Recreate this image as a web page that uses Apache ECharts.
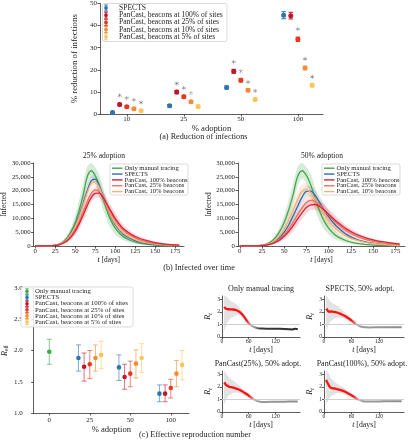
<!DOCTYPE html>
<html><head><meta charset="utf-8">
<script src="https://cdn.jsdelivr.net/npm/echarts@6/dist/echarts.min.js"></script>
<style>html,body{margin:0;padding:0;background:#fff}#c{width:411px;height:440px}</style>
</head><body><div id="c"></div>
<script>
// ================= DATA =================
// (a) Reduction of infections
const ADOPTION_A = ['10', '25', '50', '100'];
const SPECTS_A = [0.7, 3.7, 12.0, 44.7];
const SPECTS_A_ERR = [0.5, 0.6, 0.7, 1.6];
const PC100_A = [4.3, 9.9, 19.3, 44.5];
const PC100_A_ERR = [0.6, 0.8, 0.9, 1.5];
const PC25_A = [3.3, 7.8, 15.3, 33.8];
const PC25_A_ERR = [0.5, 0.7, 0.8, 1.0];
const PC10_A = [2.4, 5.5, 10.8, 20.8];
const PC10_A_ERR = [0.5, 0.6, 0.7, 0.8];
const PC5_A = [1.5, 3.4, 6.6, 13.0];
const PC5_A_ERR = [0.5, 0.6, 0.6, 0.7];
const STAR100_A = [8.4, 13.8, 23.5, null];
const STAR25_A = [7.2, 11.8, 19.3, 38.5];
const STAR10_A = [6.4, 9.4, 14.5, 25.0];
const STAR5_A = [5.2, null, 10.5, 16.9];

// (b) Infected over time
const T_DAYS = [0, 10, 20, 25, 30, 35, 40, 45, 50, 55, 60, 65, 70, 75, 80, 85, 90, 95, 100, 105, 110, 120, 130, 140, 150, 160, 170, 180];
const T_TICKS = [0, 25, 50, 75, 100, 125, 150, 175];
const MANUAL_B = [0, 20, 100, 300, 700, 1500, 3000, 5300, 8500, 13000, 18500, 25000, 27200, 25500, 22000, 17000, 12500, 9000, 6500, 4700, 3400, 1900, 1000, 550, 300, 160, 90, 50];
const MANUAL_B_SPREAD = [0, 0, 30, 100, 250, 550, 1000, 1700, 2600, 3500, 4000, 3600, 2800, 3000, 3800, 4000, 3600, 2900, 2300, 1800, 1300, 800, 450, 250, 130, 70, 40, 20];
const SPECTS_B25 = [0, 15, 80, 250, 600, 1300, 2600, 4600, 7300, 11000, 15500, 20000, 23500, 24200, 21800, 17800, 13800, 10400, 7800, 5800, 4300, 2600, 1500, 900, 550, 330, 200, 120];
const SPECTS_B25_SPREAD = [0, 0, 20, 80, 200, 450, 850, 1350, 1850, 2200, 2300, 1900, 1400, 1500, 2000, 2200, 2000, 1600, 1300, 1000, 750, 450, 260, 150, 80, 45, 25, 12];
const PC10_B25 = [0, 15, 80, 250, 600, 1300, 2500, 4400, 7000, 10500, 14800, 19200, 22600, 23200, 21200, 17600, 13900, 10700, 8200, 6200, 4700, 2900, 1800, 1100, 700, 430, 270, 170];
const PC10_B25_SPREAD = [0, 0, 20, 80, 200, 400, 800, 1250, 1700, 2000, 2100, 1800, 1300, 1300, 1700, 1900, 1800, 1500, 1200, 950, 700, 450, 280, 170, 100, 60, 35, 20];
const PC25_B25 = [0, 12, 70, 200, 500, 1100, 2100, 3700, 5900, 8800, 12300, 16000, 19000, 20300, 19600, 17300, 14500, 11800, 9400, 7400, 5800, 3600, 2300, 1500, 950, 600, 380, 250];
const PC25_B25_SPREAD = [0, 0, 20, 70, 180, 380, 700, 1100, 1500, 1800, 2000, 1900, 1500, 1300, 1500, 1700, 1800, 1700, 1500, 1250, 1000, 700, 480, 320, 210, 140, 90, 60];
const PC100_B25 = [0, 12, 60, 200, 450, 1000, 1900, 3300, 5300, 8000, 11200, 14600, 17500, 19000, 19100, 17500, 15000, 12400, 10000, 8000, 6300, 4200, 2800, 1900, 1200, 800, 500, 350];
const PC100_B25_SPREAD = [0, 0, 20, 70, 180, 380, 700, 1100, 1500, 1900, 2200, 2200, 1900, 1600, 1700, 2000, 2200, 2200, 2000, 1700, 1450, 1050, 750, 520, 360, 250, 170, 120];
const SPECTS_B50 = [0, 12, 60, 180, 420, 900, 1800, 3100, 5000, 7600, 10800, 14300, 17600, 19700, 19800, 18200, 15700, 13000, 10600, 8500, 6800, 4200, 2600, 1600, 1000, 620, 380, 240];
const SPECTS_B50_SPREAD = [0, 0, 20, 60, 150, 350, 700, 1150, 1700, 2200, 2600, 2700, 2400, 2000, 1900, 2100, 2300, 2200, 2000, 1700, 1400, 950, 650, 430, 280, 180, 120, 80];
const PC10_B50 = [0, 15, 75, 220, 500, 1100, 2200, 3800, 6100, 9200, 12900, 16800, 19800, 20400, 19200, 16800, 14000, 11400, 9100, 7200, 5700, 3500, 2200, 1400, 900, 560, 350, 220];
const PC10_B50_SPREAD = [0, 0, 20, 70, 180, 400, 800, 1300, 1900, 2500, 2900, 3000, 2600, 2200, 2300, 2500, 2500, 2200, 1900, 1600, 1300, 850, 560, 370, 240, 160, 100, 70];
const PC25_B50 = [0, 10, 50, 160, 360, 750, 1450, 2500, 4000, 6000, 8500, 11200, 13800, 15700, 16500, 16100, 14800, 13000, 11200, 9500, 8000, 5500, 3700, 2500, 1700, 1150, 780, 530];
const PC25_B50_SPREAD = [0, 0, 15, 50, 120, 280, 550, 900, 1300, 1700, 2000, 2200, 2200, 2000, 1800, 1800, 1900, 1900, 1800, 1600, 1400, 1050, 750, 530, 380, 270, 190, 130];
const PC100_B50 = [0, 10, 45, 150, 330, 680, 1300, 2200, 3500, 5200, 7300, 9700, 12000, 13900, 14900, 15000, 14300, 13000, 11500, 10000, 8600, 6200, 4400, 3100, 2200, 1550, 1100, 750];
const PC100_B50_SPREAD = [0, 0, 15, 50, 120, 260, 500, 850, 1250, 1650, 2000, 2200, 2300, 2200, 2000, 1900, 2000, 2100, 2000, 1800, 1600, 1250, 950, 700, 500, 360, 260, 190];

// (c) Effective reproduction number
const ADOPTION_C = ['0', '25', '50', '100'];
const MANUAL_C = [1.98]; const MANUAL_C_LO = [1.78]; const MANUAL_C_HI = [2.18];
const SPECTS_C = [1.88, 1.73, 1.31]; const SPECTS_C_LO = [1.67, 1.52, 1.18]; const SPECTS_C_HI = [2.09, 1.93, 1.45];
const PC100_C = [1.74, 1.575, 1.31]; const PC100_C_LO = [1.51, 1.38, 1.18]; const PC100_C_HI = [1.96, 1.78, 1.45];
const PC25_C = [1.78, 1.63, 1.40]; const PC25_C_LO = [1.55, 1.42, 1.24]; const PC25_C_HI = [2.0, 1.83, 1.54];
const PC10_C = [1.88, 1.79, 1.63]; const PC10_C_LO = [1.67, 1.56, 1.42]; const PC10_C_HI = [2.09, 2.01, 1.84];
const PC5_C = [1.93, 1.88, 1.77]; const PC5_C_LO = [1.71, 1.65, 1.53]; const PC5_C_HI = [2.15, 2.11, 2.0];

// Rt small multiples: [t, Rt]
const RT_TICKS_X = [0, 60, 120];
const RT_TICKS_Y = [0, 1, 2, 3];
const BAND_T = [5, 10, 15, 20, 25, 30, 40, 50, 60, 70, 80, 100, 130, 170];
const MAN_RT_LO = [0.5, 1.0, 1.3, 1.5, 1.6, 1.7, 1.75, 1.45, 1.0, 0.76, 0.68, 0.64, 0.63, 0.58];
const MAN_RT_HI = [3.3, 3.2, 3.0, 2.85, 2.75, 2.65, 2.3, 1.8, 1.25, 0.9, 0.74, 0.69, 0.68, 0.68];
const MAN_RT_RED = [[5, 2.38], [7, 2.3], [10, 2.22], [13, 2.2], [16, 2.2], [20, 2.19], [25, 2.18], [30, 2.15], [35, 2.08], [40, 1.97], [45, 1.8], [50, 1.58], [55, 1.33], [60, 1.1], [63, 1.0]];
const MAN_RT_TAIL = [[63, 1.0], [66, 0.9], [70, 0.82], [75, 0.75], [80, 0.7], [90, 0.67], [100, 0.66], [110, 0.66], [120, 0.65], [130, 0.65], [140, 0.64], [150, 0.62], [155, 0.6], [160, 0.62], [165, 0.66], [170, 0.62]];
const SPE_RT_LO = [0.5, 1.0, 1.25, 1.4, 1.5, 1.55, 1.5, 1.35, 1.15, 0.92, 0.79, 0.74, 0.75, 0.76];
const SPE_RT_HI = [3.3, 3.0, 2.8, 2.65, 2.55, 2.45, 2.15, 1.8, 1.5, 1.14, 0.87, 0.79, 0.8, 0.8];
const SPE_RT_RED = [[5, 2.25], [7, 2.15], [9, 2.05], [12, 2.0], [16, 2.02], [20, 2.0], [25, 1.98], [30, 1.92], [35, 1.85], [40, 1.77], [45, 1.68], [50, 1.57], [55, 1.45], [60, 1.32], [65, 1.17], [70, 1.03]];
const SPE_RT_TAIL = [[70, 1.03], [75, 0.92], [80, 0.83], [85, 0.79], [90, 0.77], [100, 0.76], [120, 0.77], [140, 0.78], [160, 0.78], [170, 0.78]];
const P25_RT_LO = [0.6, 1.05, 1.3, 1.4, 1.5, 1.55, 1.5, 1.3, 1.1, 0.92, 0.82, 0.78, 0.8, 0.81];
const P25_RT_HI = [3.3, 3.0, 2.8, 2.6, 2.5, 2.35, 2.05, 1.75, 1.5, 1.16, 0.9, 0.82, 0.84, 0.85];
const P25_RT_RED = [[5, 2.35], [7, 2.25], [9, 2.15], [12, 2.08], [16, 2.0], [20, 1.97], [25, 1.93], [30, 1.88], [35, 1.82], [40, 1.74], [45, 1.64], [50, 1.53], [55, 1.42], [60, 1.3], [65, 1.17], [70, 1.04]];
const P25_RT_TAIL = [[70, 1.04], [75, 0.93], [80, 0.86], [85, 0.82], [90, 0.8], [100, 0.8], [120, 0.81], [140, 0.82], [160, 0.83], [170, 0.83]];
const P100_RT_LO = [0.6, 1.0, 1.25, 1.35, 1.45, 1.5, 1.45, 1.3, 1.15, 0.98, 0.86, 0.81, 0.82, 0.83];
const P100_RT_HI = [3.3, 3.1, 2.7, 2.5, 2.35, 2.2, 2.0, 1.75, 1.5, 1.22, 0.98, 0.85, 0.87, 0.87];
const P100_RT_RED = [[5, 2.55], [6, 2.4], [8, 2.3], [10, 2.15], [13, 1.98], [16, 1.9], [20, 1.87], [25, 1.85], [30, 1.8], [35, 1.75], [40, 1.7], [45, 1.62], [50, 1.53], [55, 1.43], [60, 1.33], [65, 1.22], [70, 1.1], [75, 1.0]];
const P100_RT_TAIL = [[75, 1.0], [80, 0.92], [85, 0.86], [90, 0.84], [100, 0.83], [120, 0.84], [140, 0.85], [160, 0.85], [170, 0.85]];

// ================= STYLE =================
const FONT = 'Liberation Serif';
const TXT_COLOR = '#222';
const COL = {
  spectsA: '#2c74b5', pc100A: '#c1152d', pc25A: '#e8361f', pc10A: '#f58b32', pc5A: '#fcc45a', manC: '#39a845',
  manB: '#43a44e', spectsB: '#2f6cb0', pc100B: '#d8213b', pc25B: '#f2705c', pc10B: '#fdb06e'
};
const BAND = {
  manB: 'rgba(67,164,78,0.22)', spectsB: 'rgba(47,108,176,0.15)', pc100B: 'rgba(216,33,59,0.17)',
  pc25B: 'rgba(242,112,92,0.15)', pc10B: 'rgba(253,176,110,0.2)'
};
const ASTERISK = 'path://M4.5,0H5.5V10H4.5Z M0.42,2.93L0.92,2.07L9.58,7.07L9.08,7.93Z M0.42,7.07L9.08,2.07L9.58,2.93L0.92,7.93Z';

function merge(a, b) {
  const out = Object.assign({}, a);
  for (const k in b) {
    if (b[k] && typeof b[k] === 'object' && !Array.isArray(b[k]) && a[k] && typeof a[k] === 'object' && !Array.isArray(a[k])) out[k] = merge(a[k], b[k]);
    else out[k] = b[k];
  }
  return out;
}
const RICH = {
  i: { fontFamily: FONT, fontStyle: 'italic', fontSize: 8, color: TXT_COLOR, lineHeight: 9, verticalAlign: 'top' },
  s: { fontFamily: FONT, fontSize: 5.5, color: TXT_COLOR, lineHeight: 5, verticalAlign: 'bottom' },
  si: { fontFamily: FONT, fontStyle: 'italic', fontSize: 5.5, color: TXT_COLOR, lineHeight: 5, verticalAlign: 'bottom' }
};
function mkAxis(gi, o) {
  const base = {
    gridIndex: gi, type: 'value',
    axisLine: { show: true, onZero: false, lineStyle: { color: '#333', width: 0.8 } },
    axisTick: { show: true, length: 2.5, lineStyle: { color: '#333', width: 0.8 } },
    axisLabel: { fontFamily: FONT, fontSize: 7, color: TXT_COLOR, margin: 3 },
    splitLine: { show: false },
    nameLocation: 'middle',
    nameTextStyle: { fontFamily: FONT, fontSize: 8.6, color: TXT_COLOR, rich: RICH }
  };
  return merge(base, o);
}

function errRender(color, capW, r, barOp) {
  return function (params, api) {
    const x = api.value(0);
    const c = api.coord([x, api.value(1)]);
    const lo = api.coord([x, api.value(2)]);
    const hi = api.coord([x, api.value(3)]);
    const ls = { stroke: color, lineWidth: 1, opacity: barOp };
    return {
      type: 'group', children: [
        { type: 'line', shape: { x1: c[0], y1: lo[1], x2: c[0], y2: hi[1] }, style: ls },
        { type: 'line', shape: { x1: c[0] - capW / 2, y1: lo[1], x2: c[0] + capW / 2, y2: lo[1] }, style: ls },
        { type: 'line', shape: { x1: c[0] - capW / 2, y1: hi[1], x2: c[0] + capW / 2, y2: hi[1] }, style: ls },
        { type: 'circle', shape: { cx: c[0], cy: c[1], r: r }, style: { fill: color } }
      ]
    };
  };
}
// band polygon: data items are [t, lo, hi]; drawn once as a whole
function bandRender(fill, smooth) {
  return function (params, api) {
    if (params.dataIndexInside !== 0) return null;
    const n = params.dataInsideLength;
    const up = [], dn = [];
    for (let i = 0; i < n; i++) {
      const x = api.value(0, i);
      up.push(api.coord([x, api.value(2, i)]));
      dn.push(api.coord([x, api.value(1, i)]));
    }
    return { type: 'polygon', shape: { points: up.concat(dn.reverse()), smooth: smooth }, style: { fill: fill } };
  };
}

// ================= BUILD =================
const series = [];
const NAMES_A = ['SPECTS', 'PanCast, beacons at 100% of sites', 'PanCast, beacons at 25% of sites', 'PanCast, beacons at 10% of sites', 'PanCast, beacons at 5% of sites'];
const A_VALS = [SPECTS_A, PC100_A, PC25_A, PC10_A, PC5_A];
const A_ERRS = [SPECTS_A_ERR, PC100_A_ERR, PC25_A_ERR, PC10_A_ERR, PC5_A_ERR];
const A_COLS = [COL.spectsA, COL.pc100A, COL.pc25A, COL.pc10A, COL.pc5A];
const A_STARS = [null, STAR100_A, STAR25_A, STAR10_A, STAR5_A];
const OFF_A = 0.125;
const starData = [];
A_VALS.forEach((vals, k) => {
  const off = (k - 2) * OFF_A;
  series.push({
    type: 'custom', name: NAMES_A[k], xAxisIndex: 0, yAxisIndex: 0,
    itemStyle: { color: A_COLS[k] },
    data: vals.map((v, g) => [g + off, v, v - A_ERRS[k][g], v + A_ERRS[k][g]]),
    renderItem: errRender(A_COLS[k], 4.5, 2.5, 1), z: 3
  });
  if (A_STARS[k]) A_STARS[k].forEach((s, g) => { if (s != null) starData.push([g + off, s]); });
});
series.push({
  type: 'scatter', name: 'significance', xAxisIndex: 0, yAxisIndex: 0, data: starData,
  symbol: ASTERISK, symbolSize: 4.2, itemStyle: { color: '#555' }, silent: true
});

// (b)
const B_PANELS = [
  { gi: 1, curves: [[MANUAL_B, MANUAL_B_SPREAD, 'manB'], [SPECTS_B25, SPECTS_B25_SPREAD, 'spectsB'], [PC10_B25, PC10_B25_SPREAD, 'pc10B'], [PC25_B25, PC25_B25_SPREAD, 'pc25B'], [PC100_B25, PC100_B25_SPREAD, 'pc100B']] },
  { gi: 2, curves: [[MANUAL_B, MANUAL_B_SPREAD, 'manB'], [SPECTS_B50, SPECTS_B50_SPREAD, 'spectsB'], [PC10_B50, PC10_B50_SPREAD, 'pc10B'], [PC25_B50, PC25_B50_SPREAD, 'pc25B'], [PC100_B50, PC100_B50_SPREAD, 'pc100B']] }
];
const B_KEYS = ['manB', 'spectsB', 'pc100B', 'pc25B', 'pc10B'];
const B_NAMES = { manB: 'Only manual tracing', spectsB: 'SPECTS', pc100B: 'PanCast, 100% beacons', pc25B: 'PanCast, 25% beacons', pc10B: 'PanCast, 10% beacons' };
B_PANELS.forEach(p => {
  p.curves.forEach(([mean, spr, key]) => {
    series.push({
      type: 'custom', name: 'band', xAxisIndex: p.gi, yAxisIndex: p.gi, silent: true, clip: true,
      data: T_DAYS.map((t, i) => [t, Math.max(0, mean[i] - spr[i]), mean[i] + spr[i]]),
      renderItem: bandRender(BAND[key], 0.25), z: 1
    });
  });
  p.curves.forEach(([mean, spr, key]) => {
    series.push({
      type: 'line', name: B_NAMES[key], xAxisIndex: p.gi, yAxisIndex: p.gi,
      data: T_DAYS.map((t, i) => [t, mean[i]]), symbol: 'none', smooth: 0.3,
      lineStyle: { color: COL[key], width: 1.3 }, itemStyle: { color: COL[key] }, z: 3
    });
  });
});

// (c) left
const C_GROUPS = [
  { name: 'Only manual tracing', vals: MANUAL_C, lo: MANUAL_C_LO, hi: MANUAL_C_HI, col: COL.manC, g0: 0, k: 2 },
  { name: NAMES_A[0], vals: SPECTS_C, lo: SPECTS_C_LO, hi: SPECTS_C_HI, col: COL.spectsA, g0: 1, k: 0 },
  { name: NAMES_A[1], vals: PC100_C, lo: PC100_C_LO, hi: PC100_C_HI, col: COL.pc100A, g0: 1, k: 1 },
  { name: NAMES_A[2], vals: PC25_C, lo: PC25_C_LO, hi: PC25_C_HI, col: COL.pc25A, g0: 1, k: 2 },
  { name: NAMES_A[3], vals: PC10_C, lo: PC10_C_LO, hi: PC10_C_HI, col: COL.pc10A, g0: 1, k: 3 },
  { name: NAMES_A[4], vals: PC5_C, lo: PC5_C_LO, hi: PC5_C_HI, col: COL.pc5A, g0: 1, k: 4 }
];
const OFF_C = 0.14;
C_GROUPS.forEach(s => {
  series.push({
    type: 'custom', name: s.name, xAxisIndex: 3, yAxisIndex: 3, itemStyle: { color: s.col },
    data: s.vals.map((v, i) => [s.g0 + i + (s.k - 2) * OFF_C, v, s.lo[i], s.hi[i]]),
    renderItem: errRender(s.col, 5, 2.3, 0.6), z: 3
  });
});

// Rt small multiples
const RT_PLOTS = [
  { gi: 4, lo: MAN_RT_LO, hi: MAN_RT_HI, red: MAN_RT_RED, tail: MAN_RT_TAIL, dark: true },
  { gi: 5, lo: SPE_RT_LO, hi: SPE_RT_HI, red: SPE_RT_RED, tail: SPE_RT_TAIL, dark: false },
  { gi: 6, lo: P25_RT_LO, hi: P25_RT_HI, red: P25_RT_RED, tail: P25_RT_TAIL, dark: false },
  { gi: 7, lo: P100_RT_LO, hi: P100_RT_HI, red: P100_RT_RED, tail: P100_RT_TAIL, dark: false }
];
RT_PLOTS.forEach(p => {
  series.push({
    type: 'custom', name: 'rtband', xAxisIndex: p.gi, yAxisIndex: p.gi, silent: true, clip: true,
    data: BAND_T.map((t, i) => [t, p.lo[i], p.hi[i]]),
    renderItem: bandRender('rgba(160,160,160,0.3)', 0.2), z: 1
  });
  series.push({
    type: 'line', name: 'rtred', xAxisIndex: p.gi, yAxisIndex: p.gi, silent: true,
    data: p.red, symbol: 'none', smooth: 0.2, z: 3,
    lineStyle: {
      width: 2.3, color: new echarts.graphic.LinearGradient(0, 0, 1, 0, [
        { offset: 0, color: '#ff1111' }, { offset: 0.8, color: '#ff1111' }, { offset: 1, color: 'rgba(255,140,140,0.45)' }])
    },
    markLine: {
      silent: true, symbol: 'none', label: { show: false }, z: 2,
      lineStyle: { color: '#cfcfcf', width: 1, type: 'solid' }, data: [{ yAxis: 1 }]
    }
  });
  series.push({
    type: 'line', name: 'rttail', xAxisIndex: p.gi, yAxisIndex: p.gi, silent: true,
    data: p.tail, symbol: 'none', smooth: 0.2, z: 3,
    lineStyle: {
      width: 2, color: new echarts.graphic.LinearGradient(0, 0, 1, 0, p.dark ? [
        { offset: 0, color: 'rgba(190,190,190,0.6)' }, { offset: 0.12, color: '#999' }, { offset: 0.25, color: '#3a3a3a' }, { offset: 1, color: '#2a2a2a' }] : [
        { offset: 0, color: 'rgba(200,200,200,0.6)' }, { offset: 0.15, color: '#9a9a9a' }, { offset: 1, color: '#8c8c8c' }])
    }
  });
});

// axes
const grids = [
  { left: 100, top: 3, width: 223, height: 111 },
  { left: 25, top: 163, width: 159, height: 83 },
  { left: 238, top: 163, width: 167, height: 83 },
  { left: 21, top: 288, width: 168, height: 125 },
  { left: 222, top: 296, width: 78, height: 41 }, { left: 324, top: 296, width: 80, height: 41 },
  { left: 222, top: 371, width: 78, height: 41 }, { left: 324, top: 371, width: 80, height: 41 }
];

const xAxes = [
  mkAxis(0, { min: -0.47, max: 3.44, axisTick: { customValues: [0, 1, 2, 3] }, axisLabel: { customValues: [0, 1, 2, 3], formatter: v => ADOPTION_A[Math.round(v)], margin: 2 }, name: '% adoption', nameGap: 9 }),
  mkAxis(1, { min: -2, max: 186, axisTick: { customValues: T_TICKS }, axisLabel: { customValues: T_TICKS, margin: 2, fontSize: 6.8 }, name: '{i|t} [days]', nameGap: 8, nameTextStyle: { fontSize: 7.4 } }),
  mkAxis(2, { min: -2, max: 186, axisTick: { customValues: T_TICKS }, axisLabel: { customValues: T_TICKS, margin: 2, fontSize: 6.8 }, name: '{i|t} [days]', nameGap: 8, nameTextStyle: { fontSize: 7.4 } }),
  mkAxis(3, { min: -0.386, max: 3.45, axisTick: { customValues: [0, 1, 2, 3] }, axisLabel: { customValues: [0, 1, 2, 3], formatter: v => ADOPTION_C[Math.round(v)], margin: 4 }, name: '% adoption', nameGap: 10 })
];
const yAxes = [
  mkAxis(0, { min: 0, max: 50, interval: 10, name: '% reduction of infections', nameGap: 11, nameTextStyle: { fontSize: 8.8 } }),
  mkAxis(1, { min: 0, max: 30000, interval: 5000, axisLabel: { fontSize: 6.8 }, name: 'Infected', nameGap: 17.5, nameTextStyle: { fontSize: 7.4 } }),
  mkAxis(2, { min: 0, max: 30000, interval: 5000, axisLabel: { fontSize: 6.8 }, name: 'Infected', nameGap: 19, nameTextStyle: { fontSize: 7.4 } }),
  mkAxis(3, { min: 1, max: 3, interval: 0.5, axisLabel: { formatter: v => v.toFixed(1), margin: 11 }, name: '{i|R}{s|eff}', nameGap: 5 })
];
RT_PLOTS.forEach(p => {
  xAxes.push(mkAxis(p.gi, { min: 0, max: 175, axisTick: { customValues: RT_TICKS_X, length: 2 }, axisLabel: { customValues: RT_TICKS_X, fontSize: 5.6, margin: 2 }, name: '{i|t} [days]', nameGap: 6.5, nameTextStyle: { fontSize: 7.8 } }));
  yAxes.push(mkAxis(p.gi, { min: 0, max: 3.25, axisTick: { customValues: RT_TICKS_Y, length: 2 }, axisLabel: { customValues: RT_TICKS_Y, fontSize: 5.6, margin: 2 }, name: '{i|R}{si|t}', nameGap: 5 }));
});

// ================= TEXT + LEGENDS (graphic) =================
function TXT(x, y, text, size, align) {
  return {
    type: 'text', x: x, y: y, silent: true, z: 100,
    style: { text: text, font: size + 'px "' + FONT + '"', fill: TXT_COLOR, textAlign: align || 'center', textVerticalAlign: 'middle', align: align || 'center', verticalAlign: 'middle' }
  };
}
function BOX(x, y, w, h) {
  return { type: 'rect', z: 99, silent: true, shape: { x: x, y: y, width: w, height: h, r: 2 }, style: { fill: 'rgba(255,255,255,0.85)', stroke: '#d2d2d2', lineWidth: 0.8 } };
}
function ERRICON(cx, cy, color, h, cap, r) {
  const ls = { stroke: color, lineWidth: 1 };
  return {
    type: 'group', z: 100, silent: true, children: [
      { type: 'line', z: 100, shape: { x1: cx, y1: cy - h / 2, x2: cx, y2: cy + h / 2 }, style: ls },
      { type: 'line', z: 100, shape: { x1: cx - cap / 2, y1: cy - h / 2, x2: cx + cap / 2, y2: cy - h / 2 }, style: ls },
      { type: 'line', z: 100, shape: { x1: cx - cap / 2, y1: cy + h / 2, x2: cx + cap / 2, y2: cy + h / 2 }, style: ls },
      { type: 'circle', z: 100, shape: { cx: cx, cy: cy, r: r }, style: { fill: color } }
    ]
  };
}
function LINEICON(x1, x2, y, color) {
  return { type: 'line', z: 100, silent: true, shape: { x1: x1, y1: y, x2: x2, y2: y }, style: { stroke: color, lineWidth: 1.4 } };
}
const graphics = [
  TXT(203.5, 137, '(a) Reduction of infections', 8.2),
  TXT(104, 156, '25% adoption', 7.5),
  TXT(322, 156, '50% adoption', 7.5),
  TXT(199, 268, '(b) Infected over time', 8.2),
  TXT(195, 435, '(c) Effective reproduction number', 8.2),
  TXT(261, 289, 'Only manual tracing', 8),
  TXT(360, 289, 'SPECTS, 50% adopt.', 8),
  TXT(258, 364, 'PanCast(25%), 50% adopt.', 8),
  TXT(362, 364, 'PanCast(100%), 50% adopt.', 8)
];
// legend (a)
graphics.push(BOX(102.5, 3.5, 124.5, 38));
NAMES_A.forEach((n, k) => {
  const y = 8 + 7.2 * k;
  graphics.push(ERRICON(106, y, A_COLS[k], 6, 3.6, 1.9));
  graphics.push(TXT(119, y, n, 7.6, 'left'));
});
// legends (b)
[[110, 124.5], [322, 336.5]].forEach(([bx, tx]) => {
  graphics.push(BOX(bx, 164, 78, 31));
  B_KEYS.forEach((key, k) => {
    const y = 168.2 + 5.85 * k;
    graphics.push(LINEICON(bx + 2, bx + 12.5, y, COL[key]));
    graphics.push(TXT(tx, y, B_NAMES[key], 6.6, 'left'));
  });
});
// legend (c)
graphics.push(BOX(21, 287, 112, 40));
C_GROUPS.forEach((s, k) => {
  const y = 291.5 + 6.1 * k;
  graphics.push(ERRICON(27, y, s.col, 5.2, 3.4, 1.8));
  graphics.push(TXT(35, y, s.name, 6.8, 'left'));
});

const chart = echarts.init(document.getElementById('c'), null, { renderer: 'canvas' });
chart.setOption({
  animation: false, backgroundColor: '#fff',
  textStyle: { fontFamily: FONT },
  grid: grids, xAxis: xAxes, yAxis: yAxes, graphic: graphics, series: series
});
</script></body></html>
